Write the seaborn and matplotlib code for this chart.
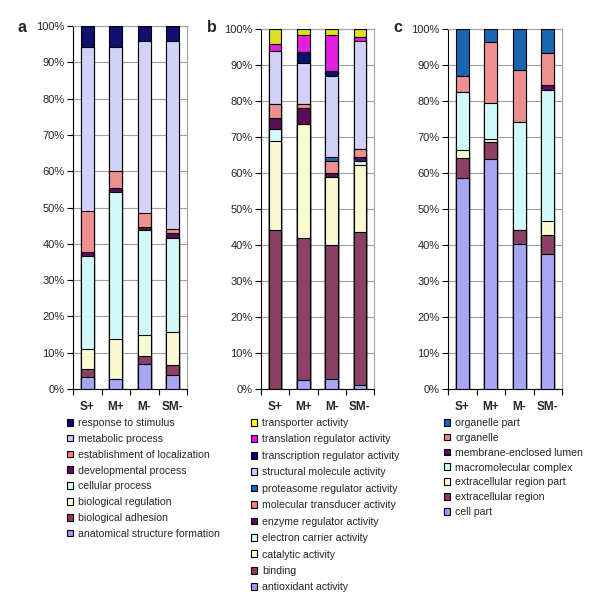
import numpy as np
import pandas as pd
import matplotlib
matplotlib.use("Agg")
import matplotlib.pyplot as plt
import matplotlib.ticker as mticker
from matplotlib.patches import Patch
import seaborn as sns

sns.set_style("white")
plt.rcParams['font.family'] = ['Liberation Sans', 'DejaVu Sans']

groups = ["S+", "M+", "M-", "SM-"]

# panel a - biological process (bottom -> top)
cats_a = ["anatomical structure formation", "biological adhesion", "biological regulation",
          "cellular process", "developmental process", "establishment of localization",
          "metabolic process", "response to stimulus"]
vals_a = [
    [3.3, 2.8, 6.9, 3.9],
    [2.3, 0.0, 2.2, 2.7],
    [5.5, 10.9, 5.8, 9.2],
    [25.6, 40.7, 28.8, 25.8],
    [1.2, 1.1, 0.9, 1.5],
    [11.1, 4.5, 3.8, 1.0],
    [45.5, 34.3, 47.6, 51.9],
    [5.7, 5.7, 4.0, 4.0],
]
cols_a = ["#9999FF", "#993366", "#FFFFCC", "#CCFFFF", "#660066", "#FF8080", "#CCCCFF", "#000080"]

# panel b - molecular function
cats_b = ["antioxidant activity", "binding", "catalytic activity", "electron carrier activity",
          "enzyme regulator activity", "molecular transducer activity",
          "proteasome regulator activity", "structural molecule activity",
          "transcription regulator activity", "translation regulator activity",
          "transporter activity"]
vals_b = [
    [0.0, 2.4, 2.7, 1.0],
    [44.3, 39.5, 37.3, 42.6],
    [24.7, 31.8, 18.8, 18.6],
    [3.2, 0.0, 0.0, 1.0],
    [3.0, 4.3, 1.3, 1.2],
    [4.1, 1.3, 3.1, 2.3],
    [0.0, 0.0, 1.2, 0.0],
    [14.5, 11.3, 22.5, 29.9],
    [0.0, 3.0, 1.4, 0.0],
    [2.0, 4.8, 10.0, 1.2],
    [4.2, 1.6, 1.7, 2.2],
]
cols_b = ["#9999FF", "#993366", "#FFFFCC", "#CCFFFF", "#660066", "#FF8080",
          "#0066CC", "#CCCCFF", "#000080", "#FF00FF", "#FFFF00"]

# panel c - cellular component
cats_c = ["cell part", "extracellular region", "extracellular region part",
          "macromolecular complex", "membrane-enclosed lumen", "organelle", "organelle part"]
vals_c = [
    [58.5, 63.9, 40.3, 37.5],
    [5.6, 4.6, 4.0, 5.3],
    [2.2, 0.9, 0.0, 3.9],
    [16.3, 10.1, 30.0, 36.4],
    [0.0, 0.0, 0.0, 1.3],
    [4.4, 16.9, 14.3, 8.9],
    [13.0, 3.6, 11.4, 6.7],
]
cols_c = ["#9999FF", "#993366", "#FFFFCC", "#CCFFFF", "#660066", "#FF8080", "#0066CC"]

fig = plt.figure(figsize=(6.0, 6.13), dpi=100)

# letter, categories, values, colours, axes box (px), legend anchor (px), letter x (px), row spacing
panels = [
    ("a", cats_a, vals_a, cols_a, [73, 26, 187, 389], (67, 418), 18, 0.553),
    ("b", cats_b, vals_b, cols_b, [261, 29, 374, 389], (251, 418), 207, 0.61),
    ("c", cats_c, vals_c, cols_c, [448, 29, 562, 389], (444, 418), 393, 0.458),
]

W, H = 600, 613
for letter, cats, vals, cols, box, leg_xy, lx, lsp in panels:
    x0, y0, x1, y1 = box
    ax = fig.add_axes([x0 / W, 1 - y1 / H, (x1 - x0) / W, (y1 - y0) / H])
    df = pd.DataFrame(np.array(vals).T, columns=cats, index=groups)
    df = df.div(df.sum(axis=1), axis=0) * 100
    cum = df.cumsum(axis=1)
    # draw from the top segment down so lower ones overlap
    for cat, col in zip(cats[::-1], cols[::-1]):
        sns.barplot(x=groups, y=cum[cat].values, color=col, edgecolor="black",
                    linewidth=0.8, width=0.45, ax=ax, zorder=3)
    ax.set_ylim(0, 100)
    ax.set_xlim(-0.5, 3.5)
    ax.yaxis.set_major_locator(mticker.MultipleLocator(10))
    ax.yaxis.set_major_formatter(mticker.FuncFormatter(lambda v, p: f"{v:.0f}%"))
    ax.yaxis.grid(True, color="#a0a0a0", linewidth=0.8, zorder=0)
    ax.set_axisbelow(True)
    ax.tick_params(axis="y", which="major", length=4, width=0.8, color="black",
                   labelsize=8, pad=2, left=True)
    ax.set_xticks(range(4))
    ax.set_xticklabels(groups, fontweight="bold", fontsize=8.5)
    ax.set_xticks(np.arange(-0.5, 4, 1), minor=True)
    ax.tick_params(axis="x", which="major", length=0, pad=9)
    ax.tick_params(axis="x", which="minor", length=4, width=0.8, color="black", bottom=True)
    for s in ["left", "bottom"]:
        ax.spines[s].set_color("black")
        ax.spines[s].set_linewidth(0.8)
    for s in ["top", "right"]:
        ax.spines[s].set_color("#a0a0a0")
        ax.spines[s].set_linewidth(0.8)
    ax.set_xlabel("")
    ax.set_ylabel("")

    handles = [Patch(facecolor=c, edgecolor="black", linewidth=0.8) for c in cols[::-1]]
    fig.legend(handles, cats[::-1], loc="upper left",
               bbox_to_anchor=(leg_xy[0] / W, 1 - leg_xy[1] / H),
               frameon=False, fontsize=7.6, handlelength=0.6, handleheight=0.6,
               handletextpad=0.45, labelspacing=lsp, borderpad=0, borderaxespad=0)

    fig.text(lx / W, 1 - 27 / H, letter, fontsize=11.5, fontweight="bold",
             ha="left", va="center")

fig.savefig("out.png", dpi=100)
